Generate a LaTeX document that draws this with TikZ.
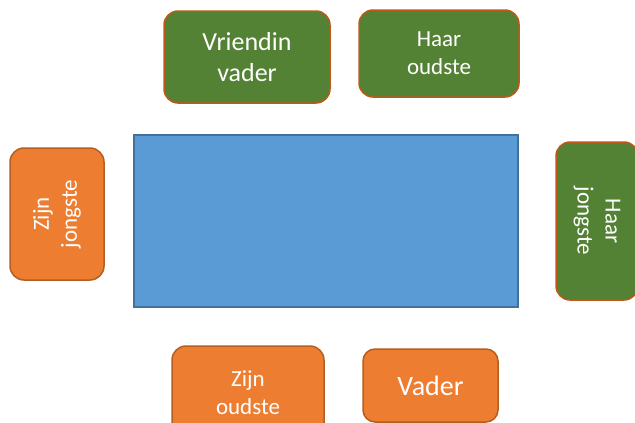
\documentclass[tikz,border=0pt]{standalone}
\usepackage{fontspec}
\setmainfont{Carlito}
\definecolor{tafelblauw}{HTML}{5B9BD5}
\definecolor{tafelrand}{HTML}{41719C}
\definecolor{groen}{HTML}{548235}
\definecolor{oranje}{HTML}{ED7D31}
\definecolor{oranjerand}{HTML}{B45E22}
\definecolor{bruinrand}{HTML}{C0581A}
\tikzset{
    groenplek/.style={
        rectangle,
        rounded corners=14pt,
        draw=bruinrand, % rand in bruin-oranje
        fill=groen,
        line width=1.5pt,
        text=white,
        align=center,
        inner sep=0
    },
    oranjeplek/.style={
        rectangle,
        rounded corners=14pt,
        draw=oranjerand,
        fill=oranje,
        line width=1.5pt,
        text=white,
        align=center,
        inner sep=0
    },
    tafel/.style={
        rectangle,
        draw=tafelrand,
        fill=tafelblauw,
        line width=1.5pt,
        inner sep=0
    }
}

\begin{document}
\begin{tikzpicture}[x=1pt, y=-1pt]
            \useasboundingbox (0,0) rectangle (635,423);
            % tafel
            \node[tafel, minimum width=384pt, minimum height=172pt] (tafel) at (326,221) {};
            % bovenkant
            \node[groenplek, minimum width=166pt, minimum height=92pt,
                font=\fontsize{26}{31}\selectfont] (vriendin) at (247,57) {Vriendin\\vader};
            \node[groenplek, minimum width=160pt, minimum height=87pt,
                font=\fontsize{23}{28}\selectfont] (haaroud) at (439,53.5) {Haar\\oudste};
            % zijkanten
            \node[oranjeplek, rotate=90, minimum width=132pt, minimum height=94pt,
                font=\fontsize{23}{28}\selectfont] (zijnjong) at (57,214) {Zijn\\jongste};
            \node[groenplek, rotate=-90, minimum width=158pt, minimum height=82pt,
                font=\fontsize{23}{28}\selectfont] (haarjong) at (597,221) {Haar\\jongste};
            % onderkant
            \node[oranjeplek, minimum width=152pt, minimum height=94pt,
                font=\fontsize{23}{28}\selectfont] (zijnoud) at (248,393) {Zijn\\oudste};
            \node[oranjeplek, rounded corners=12pt, minimum width=135pt, minimum height=73pt,
                font=\fontsize{28}{33}\selectfont] (vader) at (430.5,385.5) {Vader};
\end{tikzpicture}
\end{document}
